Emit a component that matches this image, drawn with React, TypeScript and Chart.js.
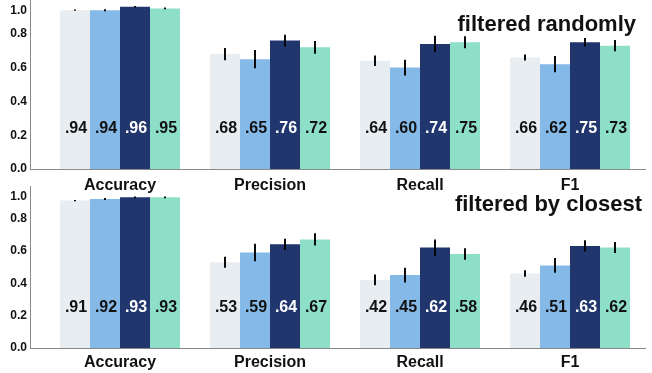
import React, { useEffect, useRef } from 'react';
import { Chart, registerables } from 'chart.js';

Chart.register(...registerables);

const FONT = '"Liberation Sans", Arial, Helvetica, sans-serif';

const categories = ['Accuracy', 'Precision', 'Recall', 'F1'];
const seriesNames = ['Model 1', 'Model 2', 'Model 3', 'Model 4'];
const seriesColors = ['#E8EDF2', '#85B9E8', '#22366E', '#8EDFC8'];
const valueLabelColors = ['#111111', '#111111', '#FFFFFF', '#111111'];
const yTicks = [0, 0.2, 0.4, 0.6, 0.8, 1.0];

// Panel 1: filtered randomly
const randomTitle = 'filtered randomly';
const randomM1 = [0.94, 0.68, 0.64, 0.66];
const randomM2 = [0.94, 0.65, 0.60, 0.62];
const randomM3 = [0.96, 0.76, 0.74, 0.75];
const randomM4 = [0.95, 0.72, 0.75, 0.73];
const randomErrM1 = [0.004, 0.036, 0.031, 0.018];
const randomErrM2 = [0.006, 0.054, 0.047, 0.048];
const randomErrM3 = [0.005, 0.035, 0.049, 0.025];
const randomErrM4 = [0.005, 0.038, 0.035, 0.033];

// Panel 2: filtered by closest
const closestTitle = 'filtered by closest';
const closestM1 = [0.91, 0.53, 0.42, 0.46];
const closestM2 = [0.92, 0.59, 0.45, 0.51];
const closestM3 = [0.93, 0.64, 0.62, 0.63];
const closestM4 = [0.93, 0.67, 0.58, 0.62];
const closestErrM1 = [0.004, 0.034, 0.033, 0.02];
const closestErrM2 = [0.006, 0.054, 0.046, 0.045];
const closestErrM3 = [0.005, 0.035, 0.05, 0.035];
const closestErrM4 = [0.005, 0.038, 0.036, 0.034];

const fmt = (v: number) => '.' + String(Math.round(v * 100)).padStart(2, '0');

const annotPlugin = {
  id: 'annot',
  afterDatasetsDraw(chart: any, _args: any, opts: any) {
    const ctx = chart.ctx;
    const ys = chart.scales.y;
    chart.data.datasets.forEach((ds: any, i: number) => {
      const meta = chart.getDatasetMeta(i);
      meta.data.forEach((bar: any, j: number) => {
        const v = ds.data[j].y;
        const e = opts.errors[i][j];
        ctx.save();
        ctx.strokeStyle = '#000000';
        ctx.lineWidth = 1.9;
        ctx.beginPath();
        ctx.moveTo(bar.x, ys.getPixelForValue(v - e));
        ctx.lineTo(bar.x, ys.getPixelForValue(v + e));
        ctx.stroke();
        ctx.font = `bold 16px ${FONT}`;
        ctx.textAlign = 'center';
        ctx.textBaseline = 'middle';
        ctx.fillStyle = valueLabelColors[i];
        ctx.fillText(fmt(v), bar.x + 1, ys.getPixelForValue(opts.labelAt));
        ctx.restore();
      });
    });
    ctx.save();
    ctx.font = `bold 22px ${FONT}`;
    ctx.textAlign = 'right';
    ctx.textBaseline = 'alphabetic';
    ctx.fillStyle = '#111111';
    ctx.fillText(opts.title, opts.titleX, opts.titleY);
    ctx.restore();
  },
};

function makeConfig(values: number[][], errors: number[][], title: string, titleX: number, titleY: number, xHeight: number, xPad: number, labelAt: number) {
  return {
    type: 'bar',
    data: {
      datasets: values.map((vals, i) => ({
        label: seriesNames[i],
        data: vals.map((v, j) => ({ x: j, y: v })),
        backgroundColor: seriesColors[i],
        borderWidth: 0,
        categoryPercentage: 0.8,
        barPercentage: 1.0,
      })),
    },
    options: {
      animation: false,
      responsive: false,
      devicePixelRatio: 1,
      layout: { padding: { top: 0, right: 7, left: 0, bottom: 0 } },
      plugins: {
        legend: { display: false },
        tooltip: { enabled: false },
        annot: { errors, title, titleX, titleY, labelAt },
      },
      scales: {
        x: {
          type: 'linear',
          min: -0.6,
          max: 3.5,
          offset: false,
          afterBuildTicks: (s: any) => {
            s.ticks = categories.map((_, j) => ({ value: j }));
          },
          afterFit: (s: any) => {
            s.height = xHeight;
            s.paddingLeft = 0;
            s.paddingRight = 0;
          },
          grid: { display: false, tickLength: 0 },
          border: { display: true, color: '#8A8A8A', width: 1 },
          ticks: {
            padding: xPad,
            color: '#111111',
            maxRotation: 0,
            autoSkip: false,
            font: { family: FONT, size: 16, weight: 'bold' },
            callback: (v: number) => categories[Math.round(v)] ?? '',
          },
        },
        y: {
          min: 0,
          max: 1,
          afterBuildTicks: (s: any) => {
            s.ticks = yTicks.map((v) => ({ value: v }));
          },
          afterFit: (s: any) => {
            s.width = 30;
            s.paddingTop = 0;
            s.paddingBottom = 0;
          },
          grid: { display: false, tickLength: 0 },
          border: { display: true, color: '#8A8A8A', width: 1 },
          ticks: {
            padding: 3,
            autoSkip: false,
            color: '#111111',
            font: { family: FONT, size: 12, weight: 'bold', lineHeight: 1.8 },
            callback: (v: number) => (Math.abs(v - 1) < 1e-9 ? ['', v.toFixed(1)] : v.toFixed(1)),
          },
        },
      },
    },
    plugins: [annotPlugin],
  };
}

function Panel(props: { top: number; height: number; config: any }) {
  const ref = useRef<HTMLCanvasElement | null>(null);
  useEffect(() => {
    const chart = new Chart(ref.current as HTMLCanvasElement, props.config);
    return () => chart.destroy();
  }, []);
  return (
    <canvas
      ref={ref}
      width={652}
      height={props.height}
      style={{ position: 'absolute', left: 0, top: props.top, width: 652, height: props.height }}
    />
  );
}

export default function App() {
  const topConfig = makeConfig(
    [randomM1, randomM2, randomM3, randomM4],
    [randomErrM1, randomErrM2, randomErrM3, randomErrM4],
    randomTitle, 636, 31, 31, 7, 0.24
  );
  const bottomConfig = makeConfig(
    [closestM1, closestM2, closestM3, closestM4],
    [closestErrM1, closestErrM2, closestErrM3, closestErrM4],
    closestTitle, 642, 25, 25, 5, 0.25
  );
  return (
    <div style={{ position: 'fixed', left: 0, top: 0, width: 652, height: 373, background: '#FFFFFF', overflow: 'hidden' }}>
      <Panel top={0} height={200} config={topConfig} />
      <Panel top={186} height={187} config={bottomConfig} />
    </div>
  );
}
